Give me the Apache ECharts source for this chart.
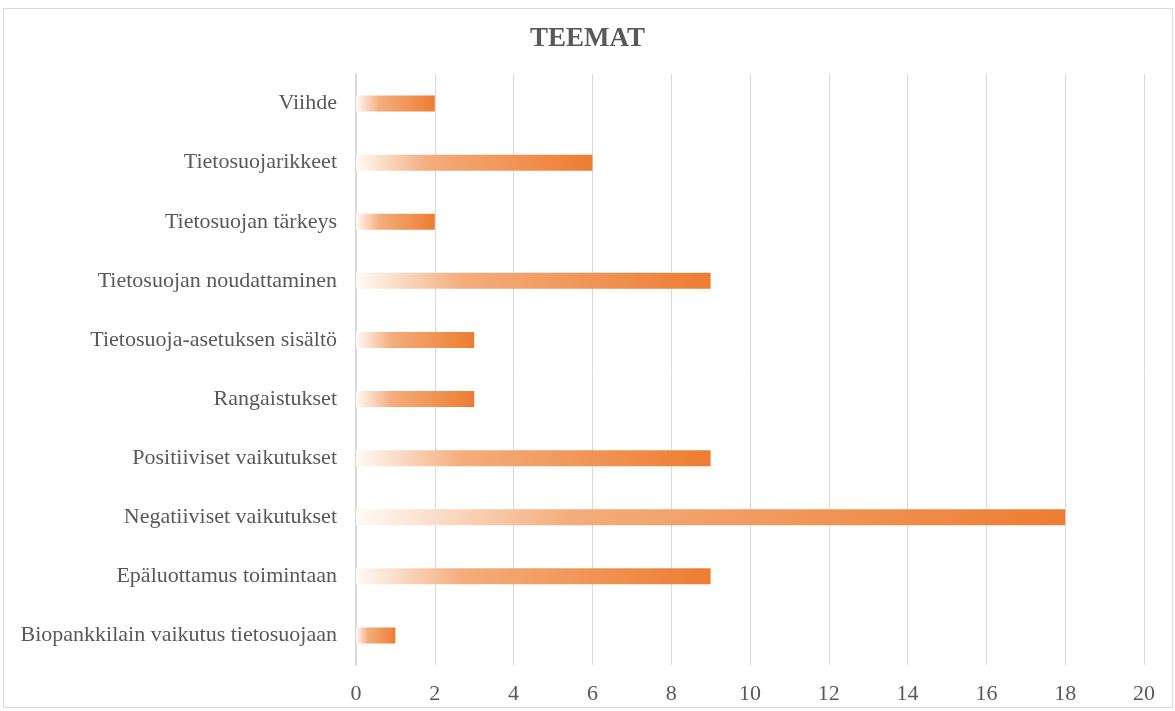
<!DOCTYPE html>
<html>
<head>
<meta charset="utf-8">
<script src="https://cdn.jsdelivr.net/npm/echarts@6/dist/echarts.min.js"></script>
<style>
  html, body { margin: 0; padding: 0; background: #fff; }
  #chart { width: 1175px; height: 711px; }
</style>
</head>
<body>
<div id="chart"></div>
<script>
// categories from bottom to top
var categories = [
  'Biopankkilain vaikutus tietosuojaan',
  'Epäluottamus toimintaan',
  'Negatiiviset vaikutukset',
  'Positiiviset vaikutukset',
  'Rangaistukset',
  'Tietosuoja-asetuksen sisältö',
  'Tietosuojan noudattaminen',
  'Tietosuojan tärkeys',
  'Tietosuojarikkeet',
  'Viihde'
];
var counts = [1, 9, 18, 9, 3, 3, 9, 2, 6, 2];
var xTicks = [0, 20, 2];

var serif = '"Liberation Serif", "Times New Roman", serif';
var chart = echarts.init(document.getElementById('chart'));

chart.setOption({
  animation: false,
  title: {
    text: 'TEEMAT',
    left: 'center',
    top: 21,
    textStyle: { fontFamily: serif, fontSize: 27, fontWeight: 'bold', color: '#595959' }
  },
  graphic: [{
    type: 'rect',
    shape: { x: 3.5, y: 8.5, width: 1169, height: 699 },
    style: { fill: 'none', stroke: '#d9d9d9', lineWidth: 1 },
    z: -1
  }],
  grid: { left: 356, right: 31, top: 74, height: 591 },
  xAxis: {
    type: 'value',
    min: xTicks[0],
    max: xTicks[1],
    interval: xTicks[2],
    axisLine: { show: false },
    axisTick: { show: false },
    splitLine: { lineStyle: { color: '#d9d9d9', width: 1 } },
    axisLabel: { fontFamily: serif, fontSize: 22, color: '#595959', margin: 18 }
  },
  yAxis: {
    type: 'category',
    data: categories,
    axisLine: { show: true, lineStyle: { color: '#d9d9d9', width: 2 } },
    axisTick: { show: false },
    axisLabel: { fontFamily: serif, fontSize: 22, color: '#595959', margin: 19 }
  },
  series: [{
    type: 'bar',
    data: counts,
    barWidth: 16,
    itemStyle: {
      color: new echarts.graphic.LinearGradient(0, 0, 1, 0, [
        { offset: 0, color: '#fffaf6' },
        { offset: 0.3, color: '#f4ad7c' },
        { offset: 1, color: '#ed7d31' }
      ])
    }
  }]
});
</script>
</body>
</html>
